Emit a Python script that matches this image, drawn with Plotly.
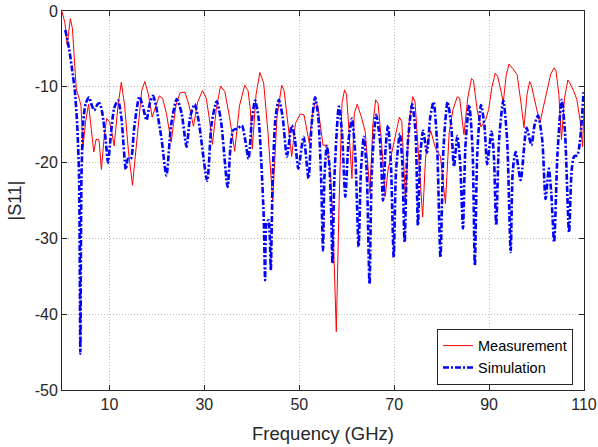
import plotly.graph_objects as go

# Measurement (red)
freq_meas = [0.0, 0.6, 1.1, 1.75, 2.2, 2.7, 3.0, 3.6, 4.0, 4.4, 5.0, 5.6, 6.2, 6.7, 7.2, 7.8, 8.3, 8.9, 9.4, 10.0,
             10.5, 11.0, 11.8, 12.5, 13.2, 14.0, 14.85, 15.8, 16.8, 17.45, 18.2, 19.0, 19.8, 20.5, 21.2, 22.0, 23.0, 24.0, 24.85, 25.9,
             26.8, 27.7, 28.6, 29.6, 30.4, 31.0, 31.7, 32.5, 33.4, 34.3, 35.3, 36.4, 37.4, 38.5, 39.2, 39.7, 40.1, 40.9, 41.7, 42.5,
             43.4, 44.4, 45.3, 46.3, 46.8, 47.6, 48.4, 49.2, 50.2, 51.0, 52.1, 52.8, 53.35, 53.9, 54.5, 55.0, 55.8, 56.6, 57.2, 57.8,
             58.4, 59.0, 59.55, 59.95, 60.5, 61.1, 61.6, 62.2, 63.0, 63.9, 64.9, 65.5, 66.1, 66.6, 67.3, 68.1, 68.7, 69.4, 70.3, 71.1,
             71.6, 72.4, 73.1, 73.9, 74.4, 75.2, 76.0, 76.6, 77.0, 77.7, 78.7, 79.75, 80.8, 81.6, 82.4, 83.3, 83.8, 84.7, 85.5, 86.3,
             86.7, 87.5, 88.3, 89.3, 89.9, 90.6, 91.3, 91.8, 92.5, 93.0, 93.6, 94.2, 95.0, 95.9, 96.7, 97.35, 98.0, 98.55, 98.9, 99.8,
             100.7, 101.5, 102.4, 103.0, 103.7, 104.1, 104.7, 105.25, 105.9, 106.6, 107.0, 107.8, 108.5, 109.2, 109.7, 110.0]
s11_meas = [-0.1, -1.5, -4.5, -1.0, -2.3, -8.5, -10.3, -11.5, -12.5, -18.0, -14.5, -12.3, -15.5, -18.6, -16.9, -17.0, -20.9, -16.5, -14.2, -14.6,
            -16.0, -17.8, -12.5, -9.4, -12.5, -18.5, -23.0, -16.5, -10.5, -9.3, -11.0, -14.0, -12.5, -11.2, -11.5, -13.5, -17.3, -12.5, -10.8, -10.7,
            -12.5, -15.2, -12.0, -10.5, -11.5, -14.0, -17.6, -13.0, -9.9, -10.6, -14.0, -18.5, -12.5, -9.8, -10.5, -13.0, -18.2, -11.0, -8.1, -9.5,
            -16.0, -25.0, -14.0, -9.8, -10.5, -14.5, -19.2, -14.8, -13.6, -13.7, -17.4, -13.5, -12.0, -12.5, -15.5, -17.7, -17.7, -21.5, -30.0, -42.3,
            -25.0, -12.2, -10.4, -11.0, -16.0, -22.1, -13.5, -12.3, -13.8, -15.9, -24.0, -15.0, -11.7, -12.2, -17.0, -24.5, -21.0, -19.0, -16.0, -14.0,
            -14.6, -25.2, -15.0, -11.3, -12.0, -19.0, -27.2, -19.5, -17.5, -15.8, -18.1, -19.2, -25.4, -16.0, -13.0, -11.3, -11.5, -16.3, -11.5, -8.9,
            -9.2, -13.1, -15.3, -14.3, -13.0, -10.0, -8.2, -8.6, -10.5, -12.0, -8.5, -7.0, -7.6, -8.4, -12.0, -15.4, -11.0, -9.3, -9.8, -12.5,
            -14.8, -12.5, -10.0, -8.3, -7.5, -7.9, -11.0, -17.0, -11.5, -9.1, -9.5, -10.5, -11.7, -14.5, -17.9, -13.0]

# Simulation (blue)
freq_sim = [0.7, 1.5, 2.3, 2.7, 3.2, 3.6, 3.87, 4.1, 4.5, 5.0, 5.7, 6.3, 6.8, 7.5, 7.95, 8.5, 9.2, 9.7, 10.2, 11.0,
            11.8, 12.5, 13.45, 13.9, 14.5, 15.2, 16.3, 17.0, 17.8, 18.5, 19.2, 19.8, 21.0, 22.0, 23.0, 24.2, 25.2, 26.25, 27.0, 27.95,
            28.8, 30.6, 31.5, 32.6, 33.5, 34.9, 35.5, 36.1, 37.0, 37.9, 38.6, 39.3, 40.0, 40.7, 41.4, 42.0, 42.5, 42.8, 43.1, 43.5,
            43.8, 44.0, 44.4, 45.0, 45.7, 46.5, 47.4, 48.4, 49.0, 49.8, 50.9, 51.95, 52.6, 53.35, 54.0, 54.6, 55.0, 55.3, 55.8, 56.3,
            56.7, 57.0, 57.4, 58.35, 59.0, 59.7, 60.4, 61.1, 61.8, 62.5, 63.0, 63.6, 64.2, 64.8, 65.3, 66.2, 67.0, 67.65, 68.2, 68.7,
            69.3, 69.9, 70.4, 71.2, 71.7, 72.2, 72.8, 73.8, 74.5, 75.0, 75.5, 76.1, 76.9, 77.6, 78.3, 79.0, 79.75, 80.4, 81.25, 82.0,
            82.6, 83.3, 83.9, 84.5, 85.0, 85.8, 86.5, 87.0, 87.5, 88.3, 89.0, 89.6, 90.5, 91.0, 91.5, 92.1, 93.0, 93.8, 94.55, 95.0,
            95.6, 96.65, 97.9, 98.9, 99.6, 100.3, 101.2, 101.9, 102.6, 103.1, 103.7, 104.4, 105.3, 106.0, 106.85, 107.4, 107.9, 108.6, 109.9]
s11_sim = [-2.5, -5.0, -8.5, -10.5, -15.0, -22.0, -45.2, -22.0, -14.5, -12.2, -11.4, -12.5, -13.1, -12.3, -12.2, -13.5, -17.0, -20.0, -17.0, -12.8,
           -11.8, -14.0, -20.9, -19.5, -19.5, -15.5, -11.3, -12.5, -14.4, -12.2, -11.2, -12.5, -17.0, -21.7, -15.0, -11.6, -13.5, -17.9, -14.0, -12.3,
           -14.5, -22.4, -15.0, -11.9, -14.5, -23.2, -18.0, -15.7, -15.5, -15.1, -17.0, -19.5, -14.5, -11.8, -14.0, -20.0, -27.0, -35.5, -28.0, -27.6,
           -30.0, -34.2, -22.0, -14.0, -11.7, -14.0, -19.2, -15.1, -16.5, -20.8, -16.6, -22.1, -15.0, -11.4, -14.0, -22.0, -31.6, -22.0, -17.8, -20.0,
           -26.0, -33.3, -22.0, -12.6, -16.0, -24.5, -17.0, -14.2, -19.0, -31.1, -21.0, -16.6, -21.0, -36.0, -21.0, -13.7, -17.0, -25.0, -18.0, -15.1,
           -20.0, -32.5, -21.0, -16.2, -20.0, -30.5, -18.0, -12.3, -16.0, -28.3, -19.0, -15.8, -18.7, -14.0, -12.0, -17.0, -32.5, -18.0, -12.0, -15.0,
           -20.5, -16.5, -20.0, -28.7, -18.0, -12.4, -18.0, -33.6, -19.0, -12.4, -15.0, -20.2, -15.9, -19.0, -28.3, -17.0, -11.8, -17.0, -31.8, -21.0,
           -18.6, -22.3, -15.4, -17.7, -15.0, -13.8, -17.0, -24.8, -20.8, -24.0, -30.5, -19.0, -11.7, -16.0, -29.2, -21.0, -19.2, -19.0, -10.7]

x_tickvals = [10, 30, 50, 70, 90, 110]
x_ticktext = ["10", "30", "50", "70", "90", "110"]
y_tickvals = [0, -10, -20, -30, -40, -50]
y_ticktext = ["0", "-10", "-20", "-30", "-40", "-50"]

FONT = "Liberation Sans, Arial, sans-serif"
AXC = "#262626"

fig = go.Figure()
fig.add_trace(go.Scatter(x=freq_meas, y=s11_meas, mode="lines", name="Measurement",
                         line=dict(color="#ff0000", width=1)))
fig.add_trace(go.Scatter(x=freq_sim, y=s11_sim, mode="lines", name="Simulation",
                         line=dict(color="#0000ff", width=2.6, dash="6px,2px,2px,2px",
                                   shape="spline", smoothing=0.7)))

axis_common = dict(showline=True, linecolor=AXC, linewidth=1, mirror="ticks",
                   ticks="inside", ticklen=5, tickcolor=AXC, tickwidth=1,
                   showgrid=True, gridcolor="#bdbdbd", griddash="1px,2px", gridwidth=1,
                   zeroline=False, tickfont=dict(family=FONT, size=16, color=AXC),
                   automargin=False)

fig.update_xaxes(range=[0, 110], tickmode="array", tickvals=x_tickvals, ticktext=x_ticktext,
                 title=dict(text="Frequency (GHz)", font=dict(family=FONT, size=18.5, color=AXC), standoff=14),
                 **axis_common)
fig.update_yaxes(range=[-50, 0], tickmode="array", tickvals=y_tickvals, ticktext=y_ticktext,
                 title=dict(text="|S11|", font=dict(family=FONT, size=18, color=AXC), standoff=8),
                 **axis_common)

fig.update_layout(
    width=598, height=447,
    margin=dict(l=62, r=14, t=11, b=57),
    paper_bgcolor="white", plot_bgcolor="white",
    font=dict(family=FONT, color=AXC),
    showlegend=True,
    legend=dict(x=0.979, y=0.014, xanchor="right", yanchor="bottom",
                bgcolor="white", bordercolor=AXC, borderwidth=1,
                font=dict(family=FONT, size=14.5, color="#000000"),
                tracegroupgap=0, itemwidth=30),
)

fig.write_html("out.html")
